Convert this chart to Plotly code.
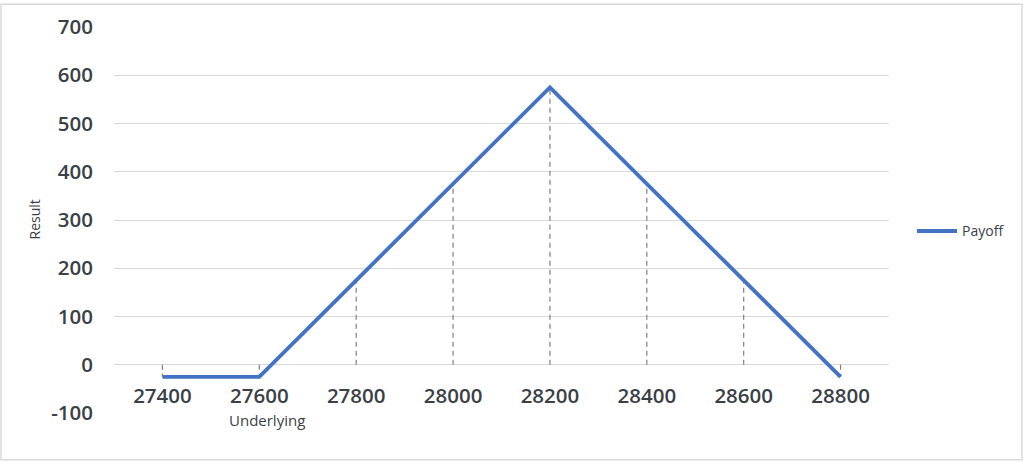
import plotly.graph_objects as go

categories = ["27400", "27600", "27800", "28000", "28200", "28400", "28600", "28800"]
payoff = [-25, -25, 175, 375, 575, 375, 175, -25]
y_ticks = [-100, 0, 100, 200, 300, 400, 500, 600, 700]
y_tick_text = ["-100", "0", "100", "200", "300", "400", "500", "600", "700"]
series_name = "Payoff"
x_title = "Underlying"
y_title = "Result"

# plot-area geometry (pixels)
L, R, T, B = 114, 135, 24, 49
W, H = 1024, 462
pw, ph = W - L - R, H - T - B

def px_x(p):
    return (p - L) / pw

def px_y(p):
    return (H - B - p) / ph

# drop lines from each point to the category axis (y = 0)
drop_x, drop_y = [], []
for c, v in zip(categories, payoff):
    drop_x += [c, c, None]
    drop_y += [0, v, None]

fig = go.Figure()
fig.add_trace(go.Scatter(
    x=drop_x, y=drop_y, mode="lines",
    line=dict(color="#7f7f7f", width=1.2, dash="5px,4px"),
    showlegend=False, hoverinfo="skip"))
fig.add_trace(go.Scatter(
    x=categories, y=payoff, mode="lines", name=series_name,
    line=dict(color="#4472C4", width=3.8)))

txt = "#3b3f46"
tick_font = dict(family="Open Sans", size=20.5, color=txt, weight=600)

fig.update_layout(
    width=W, height=H,
    margin=dict(l=L, r=R, t=T, b=B),
    paper_bgcolor="white", plot_bgcolor="white",
    xaxis=dict(type="category", categoryorder="array", categoryarray=categories,
               range=[-0.5, len(categories) - 0.5],
               showgrid=False, showline=False, zeroline=False, ticks="",
               tickfont=tick_font, anchor="free", position=px_y(381)),
    yaxis=dict(range=[-100, 700], tickvals=y_ticks, ticktext=y_tick_text,
               showgrid=True, gridcolor="#d9d9d9", gridwidth=1,
               zeroline=True, zerolinecolor="#d9d9d9", zerolinewidth=1,
               showline=False, ticks="", tickfont=tick_font,
               ticklabelstandoff=20),
    legend=dict(x=px_x(912), y=px_y(230), xanchor="left", yanchor="middle",
                font=dict(family="Open Sans", size=14, color=txt),
                bgcolor="rgba(0,0,0,0)", itemwidth=40),
    annotations=[
        dict(text=x_title, xref="paper", yref="paper", x=px_x(267), y=px_y(420),
             showarrow=False, xanchor="center", yanchor="middle",
             font=dict(family="Open Sans", size=15, color=txt)),
        dict(text=y_title, xref="paper", yref="paper", x=px_x(35), y=px_y(218),
             showarrow=False, textangle=-90, xanchor="center", yanchor="middle",
             font=dict(family="Open Sans", size=14, color=txt)),
    ],
    shapes=[dict(type="rect", xref="paper", yref="paper",
                 x0=px_x(1), x1=px_x(1022), y0=px_y(460), y1=px_y(1),
                 line=dict(color="#d9d9d9", width=1.5))],
)

fig.write_html("out.html", config={"displayModeBar": False},
               post_script="document.body.style.margin='0';document.body.style.padding='0';")
